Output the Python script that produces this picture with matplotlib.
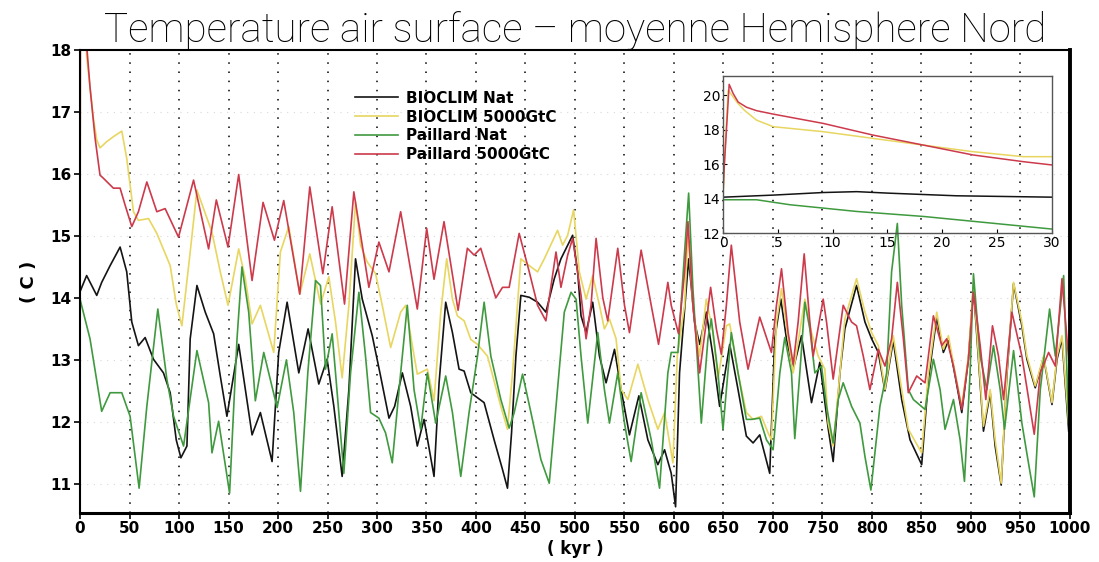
import numpy as np
import matplotlib
matplotlib.use("Agg")
from matplotlib import pyplot as plt

# ---- main panel data (kyr, deg C) ----
bio_nat_t = [0, 6.7, 16.9, 21.9, 30.4, 40.5, 47.2, 52.3, 59, 65.8, 74.2, 84.3, 91.1, 97.2, 101.9, 108, 111.3, 118.1,
             126.5, 135, 141.7, 148.4, 160.3, 167, 173.8, 182.2, 194, 200.7, 209.2, 221, 230.4, 241.2,
             249.6, 256.4, 264.8, 271.6, 278.3, 285.1, 295.2, 303.6, 312.1, 317.8, 325.6, 334, 340.7, 347.5,
             357.6, 362.7, 369.4, 376.2, 382.9, 388, 394.7, 401.5, 408.2, 418.3, 426.8, 431.8, 435.9, 440.3,
             445.3, 453.8, 462.2, 470.6, 479.1, 485.8, 497.6, 502.7,
             506.1, 511.2, 517.9, 524.7, 531.4, 539.9, 546.6, 555, 564.5, 573.6, 583.7, 590.5, 597.2, 601.6,
             605.6, 614.8, 620.8, 625.9, 632.6, 639.4, 646.1, 656.3, 664.7, 673.1, 679.9, 686.6, 696.7, 701.8,
             707.9, 713.6, 720.4, 728.8, 738.9, 747.3,
             755.7, 760.8, 767.6, 772.6, 784.4, 792.9, 799.6, 806.4, 813.1, 821.5, 830, 838.4, 850.2, 857,
             865.4, 872.1, 877.2, 884, 890.7, 897.4, 902.5, 907.6, 912.6, 919.4, 924.4, 930.5, 936.2, 943,
             951.4, 956.5, 964.9, 973.4, 981.8, 986.9, 991.9, 998.7]
bio_nat = [14.1, 14.36, 14.04, 14.25, 14.52, 14.82, 14.42, 13.61, 13.23, 13.36, 13.01, 12.79, 12.47, 11.71, 11.42, 11.61, 13.34, 14.2,
           13.77, 13.42, 12.74, 12.09, 13.25, 12.52, 11.79, 12.15, 11.36, 13.12, 13.93, 12.79, 13.5, 12.61,
           13.01, 12.25, 11.12, 12.52, 14.63, 13.98, 13.39, 12.74, 12.06, 12.25, 12.79, 12.25, 11.61, 12.04,
           11.12, 12.63, 13.93, 13.44, 12.85, 12.82, 12.47, 12.39, 12.31, 11.71, 11.23, 10.93, 11.82, 13.06,
           14.04, 14.01, 13.93, 13.77, 14.31, 14.63, 15.01, 14.42,
           13.71, 13.44, 13.93, 13.06, 12.63, 13.17, 12.52, 11.79, 12.42, 11.71, 11.31, 11.55, 11.17, 10.63,
           12.79, 14.63, 13.61, 13.25, 13.77, 13.06, 12.25, 13.25, 12.52, 11.77, 11.66, 11.79, 11.17, 13.34,
           13.98, 13.34, 12.85, 13.39, 12.31, 12.96,
           11.9, 11.36, 12.79, 13.5, 14.2, 13.61, 13.34, 13.12, 12.5, 13.31, 12.36, 11.71, 11.31, 12.69,
           13.69, 13.12, 13.31, 12.74, 12.15, 13.01, 14.17, 13.01, 11.85, 12.47, 11.61, 10.98, 12.74, 14.23,
           13.55, 13.01, 12.55, 13.04, 12.28, 13.01, 13.34, 11.85]

bio_co2_t = [0, 0.5, 6.7, 10.1, 13.5, 16.9, 20.2, 27, 33.7, 42.2, 47.2, 54, 59, 69.2, 77.6, 91.1, 97.2, 102.9,
             111.3, 118.1, 124.8, 133.3, 141.7, 149.5, 160.3, 167, 173.8, 182.2, 195.7, 202.4, 210.9, 222,
             232.1, 243, 251.3, 258.1, 264.8, 271.6, 278.3, 283.4, 290.1, 298.6, 305.3, 313.8, 323.9, 329,
             335.7, 340.7, 350.9, 357.6, 364.4, 370.4, 376.2, 381.2, 388, 394.7, 401.5, 411.6, 425.1, 431.8,
             436.9, 445.3, 453.8, 462.2, 469, 482.4, 487.5, 492.6, 498.6, 504.4,
             511.2, 517.9, 524.7, 529.7, 534.8, 541.5, 546.6, 553.4, 563.5, 573.6, 583.7, 590.5, 598.9, 603.3,
             610.7, 614.1, 619.1, 625.9, 632.6, 639.4, 644.4, 652.9, 656.3, 664.7, 673.1, 679.9, 688.3, 695.1,
             698.4, 703.5, 708.6, 715.3, 720.4, 732.2, 738.9, 745.7, 752.4,
             755.7, 760.8, 767.6, 772.6, 784.4, 792.9, 799.6, 806.4, 813.1, 821.5, 830, 836.7, 850.2, 857,
             865.4, 872.1, 877.2, 884, 890.7, 897.4, 902.5, 907.6, 912.6, 919.4, 924.4, 930.5, 936.2, 943,
             951.4, 956.5, 964.9, 973.4, 981.8, 986.9, 991.9, 998.7]
bio_co2 = [14.2, 20.3, 17.9, 17.4, 16.9, 16.55, 16.42, 16.52, 16.6, 16.69, 16.25, 15.39, 15.25, 15.28, 15.04, 14.52, 13.9, 13.55,
           14.74, 15.74, 15.44, 15.06, 14.42, 13.88, 14.79, 14.31, 13.58, 13.88, 13.12, 14.74, 15.15, 14.06,
           14.71, 13.9, 14.34, 13.61, 12.71, 13.88, 15.55, 14.85, 14.58, 14.39, 13.88, 13.2, 13.77, 13.88,
           13.23, 12.77, 12.85, 12.34, 13.77, 14.63, 13.98, 13.71, 13.63, 13.33, 13.25, 13.06, 12.25, 11.88,
           12.79, 14.63, 14.52, 14.42, 14.63, 15.09, 14.85, 15.01, 15.42, 14.42,
           13.98, 14.36, 13.88, 13.5, 13.66, 13.34, 12.52, 12.36, 12.93, 12.36, 11.88, 12.15, 11.34, 13.06,
           13.88, 15.06, 13.88, 13.06, 13.98, 13.44, 12.69, 13.55, 13.58, 12.79, 12.15, 12.04, 12.09, 11.82,
           11.71, 13.61, 14.15, 13.34, 12.79, 13.98, 13.44, 13.06, 12.85,
           11.98, 11.61, 12.79, 13.66, 14.31, 13.77, 13.44, 13.23, 12.52, 13.39, 12.52, 11.88, 11.5, 12.79,
           13.77, 13.17, 13.39, 12.79, 12.25, 13.06, 14.25, 13.06, 11.93, 12.52, 11.71, 11.01, 12.79, 14.25,
           13.61, 13.06, 12.58, 13.06, 12.31, 13.06, 13.39, 11.98]

pai_nat_t = [0, 10.1, 21.9, 30.4, 42.2, 50.6, 55.7, 59.7, 67.5, 78.6, 87.7, 94.5, 104.6, 118.1, 129.9, 133.3, 140,
             151.1, 158.6, 163.6, 170.4, 177.1, 185.6, 199.1, 208.5, 215.9, 222.7, 230.1, 237.9, 242.9, 248,
             254.7, 258.1, 266.5, 273.3, 281.7, 288.4, 293.5, 301.9, 308.7, 315.4, 323.9, 330.6, 337.4, 344.1,
             350.9, 359.3, 369.4, 376.2, 384.6, 393, 401.5, 408.2, 415, 425.1, 433.5, 438.6, 447, 455.5, 465.6,
             474, 480.8, 489.2, 496, 501.1, 506.1,
             512.9, 523, 529.7, 534.8, 543.2, 550, 556.7, 566.8, 577, 585.4, 593.8, 597.2, 604, 610.7, 614.8,
             619.1, 627.6, 634.3, 637.7, 644.4, 649.5, 657.9, 664.7, 673.1, 678.2, 686.6, 693.4, 700.1, 706.9,
             711.9, 718.7, 722, 727.1, 732.2, 737.2, 742.3, 749,
             754.1, 760.8, 765.9, 770.9, 779.4, 787.8, 792.9, 798.9, 808, 814.8, 819.8, 825.6, 830, 836.7,
             841.8, 853.6, 862, 868.8, 873.8, 882.3, 889, 893.4, 899.1, 902.5, 909.3, 916, 922.7, 929.5, 933.9,
             943, 951.4, 957.5, 963.9, 970, 979.4, 985.2, 993.6, 998.7]
pai_nat = [13.98, 13.34, 12.17, 12.47, 12.47, 12.09, 11.44, 10.93, 12.25, 13.82, 12.69, 12.09, 11.61, 13.15, 12.31, 11.5, 12.01,
           10.85, 13.34, 14.5, 13.77, 12.34, 13.12, 12.23, 13.0, 12.15, 10.88, 12.79, 14.28, 14.2, 12.85,
           13.42, 12.79, 11.17, 12.79, 14.09, 13.06, 12.15, 12.06, 11.82, 11.34, 12.79, 13.88, 12.52, 11.88,
           12.79, 11.98, 12.74, 12.15, 11.12, 12.15, 13.06, 13.93, 13.06, 12.36, 11.9, 12.15, 12.77, 12.15, 11.39,
           11.01, 12.25, 13.77, 14.09, 13.98, 13.06,
           11.98, 13.44, 12.52, 11.98, 12.79, 11.98, 11.36, 12.47, 11.71, 10.93, 12.79, 13.12, 13.12, 14.74, 15.69,
           14.15, 11.98, 13.34, 13.66, 12.79, 11.88, 13.44, 12.79, 12.04, 12.04, 12.06, 11.71, 11.55, 12.79,
           13.36, 12.79, 11.73, 12.79, 13.93, 13.5, 12.79, 12.9,
           12.25, 11.66, 12.36, 12.63, 12.25, 11.98, 11.44, 10.9, 12.25, 12.79, 14.42, 15.2, 13.88, 12.52,
           12.36, 12.2, 13.01, 12.52, 11.88, 12.36, 11.71, 11.04, 12.79, 14.39, 13.06, 12.52, 13.23, 12.52, 11.88,
           13.15, 11.98, 11.39, 10.79, 12.52, 13.82, 13.06, 14.36, 11.98]

pai_co2_t = [0, 0.55, 5.1, 10.1, 15.2, 20.2, 23.6, 33.7, 40.5, 45.5, 52.3, 59, 67.5, 77.6, 86, 99.5, 114.7,
             129.9, 137.7, 149.5, 160.3, 173.8, 184.9, 196.4, 205.8, 222, 232.1, 245.3,
             254.7, 267.2, 276.6, 291.8, 301.9, 312.1, 323.9, 340.7, 350.2, 357.6, 367.7, 381.9, 391.3, 398.1,
             404.8, 420, 426.8, 433.5, 443.6, 453.8, 462.2, 470.6, 480.8, 485.8, 492.6, 497.6,
             506.1, 511.2, 516.2, 521.3, 528.1, 533.1, 543.2, 550, 555, 566.8, 577, 584.4, 593.8, 597.2, 604.6,
             610.7, 614.1, 619.1, 625.9, 632.6, 637, 642.8, 647.8, 652.9, 657.9, 666.4, 674.8, 686.6, 698.4,
             703.5, 708.6, 715.3, 720.4, 725.4, 731.5, 737.2, 740.6, 750.7,
             754.1, 760.8, 770.9, 779.4, 784.4, 791.2, 797.9, 806.4, 813.1, 819.8, 825.6, 831.7, 836.7, 845.2,
             853.6, 862, 870.5, 875.5, 882.3, 890.7, 897.4, 902.5, 909.3, 915, 921.7, 927.8, 932.9, 941.3,
             951.4, 963.9, 970, 978.4, 985.2, 991.9, 998.7]
pai_co2 = [14.0, 20.6, 18.4, 17.4, 16.58, 15.98, 15.93, 15.77, 15.77, 15.5, 15.15, 15.39, 15.87, 15.39, 15.44, 14.98, 15.9,
           14.79, 15.58, 14.82, 15.99, 14.28, 15.54, 14.93, 15.57, 14.06, 15.79, 14.39,
           15.47, 13.9, 15.71, 14.17, 14.9, 14.42, 15.39, 13.82, 15.12, 14.3, 15.23, 13.8, 14.8, 14.69,
           14.8, 14.0, 14.17, 14.17, 15.04, 14.42, 13.88, 13.63, 14.74, 14.17, 14.69, 14.96,
           14.04, 13.34, 13.88, 14.96, 14.0, 13.63, 14.8, 13.88, 13.44, 14.77, 13.88, 13.25, 14.25, 13.88, 13.42,
           14.42, 15.23, 13.88, 12.79, 13.61, 14.17, 13.5, 13.09, 13.88, 14.85, 13.61, 12.85, 13.69, 13.12,
           13.88, 14.47, 13.44, 12.93, 13.61, 14.71, 13.61, 13.06, 13.98,
           13.61, 12.69, 13.88, 13.61, 13.55, 13.06, 12.52, 13.17, 12.9, 13.34, 14.25, 13.34, 12.47, 12.74,
           12.63, 13.71, 13.23, 13.34, 12.9, 12.2, 13.01, 14.09, 13.23, 12.36, 13.55, 13.06, 12.36, 13.77,
           13.06, 11.8, 12.79, 13.12, 12.9, 14.31, 13.01]

# ---- inset data: first 30 kyr ----
in_bio_nat_t = [0, 4.57, 9.14, 12.2, 15.2, 21.3, 30]
in_bio_nat = [14.08, 14.2, 14.35, 14.4, 14.31, 14.16, 14.08]
in_bio_co2_t = [0, 0.1, 0.46, 0.91, 1.37, 1.98, 3.05, 4.57, 9.14, 13.7, 18.3, 22.8, 27.4, 30]
in_bio_co2 = [14.3, 16.0, 20.29, 19.9, 19.5, 19.1, 18.55, 18.17, 17.88, 17.49, 17.1, 16.72, 16.43, 16.43]
in_pai_nat_t = [0, 3.05, 6.1, 12.2, 18.3, 24.4, 30]
in_pai_nat = [13.93, 13.93, 13.64, 13.25, 12.96, 12.58, 12.23]
in_pai_co2_t = [0, 0.09, 0.55, 0.91, 1.37, 2.13, 3.05, 4.57, 9.14, 13.7, 18.3, 22.8, 27.4, 30]
in_pai_co2 = [14.4, 15.7, 20.63, 20.1, 19.6, 19.3, 19.1, 18.9, 18.36, 17.68, 17.1, 16.53, 16.14, 15.95]

labels = ["BIOCLIM Nat", "BIOCLIM 5000GtC", "Paillard Nat", "Paillard 5000GtC"]
colors = ["#141414", "#e8d660", "#3f9a3f", "#cc3a4c"]

fig = plt.figure(figsize=(10.99, 5.62), dpi=100)
ax = fig.add_axes([0.0728, 0.0872, 0.9008, 0.824])

series = [(bio_nat_t, bio_nat), (bio_co2_t, bio_co2), (pai_nat_t, pai_nat), (pai_co2_t, pai_co2)]
for (t, v), c, lab in zip(series, colors, labels):
    ax.plot(t, v, color=c, lw=1.2, label=lab, solid_joinstyle="round")

ax.set_xlim(0, 1000)
ax.set_ylim(10.53, 18)
ax.set_xticks(np.arange(0, 1001, 50))
ax.set_yticks(np.arange(11, 19, 1))
for x in np.arange(50, 1000, 50):
    ax.axvline(x, color="k", lw=1.1, ls=(0, (1, 5)), zorder=0)
for y in np.arange(11, 18, 1):
    ax.axhline(y, color="#d8d8d8", lw=0.8, ls=(0, (1, 5)), zorder=0)
ax.tick_params(axis="both", direction="out", length=4, width=1.2, labelsize=11, pad=2)
for lab in ax.get_xticklabels() + ax.get_yticklabels():
    lab.set_fontweight("bold")
for s in ["left", "top"]:
    ax.spines[s].set_linewidth(1.5)
ax.spines["bottom"].set_linewidth(2.2)
ax.spines["right"].set_linewidth(2.8)

ax.set_xlabel("( kyr )", fontsize=12, fontweight="bold", labelpad=3)
ax.set_ylabel("( C )", fontsize=13, fontweight="bold", labelpad=9)
ax.set_title("Temperature air surface \u2013 moyenne Hemisphere Nord", fontsize=29, color="black",
             family=["Roboto", "DejaVu Sans"], fontweight="light", pad=6)

leg = ax.legend(loc="upper left", bbox_to_anchor=(0.272, 0.925), frameon=False, handlelength=2.8,
                handletextpad=0.5, labelspacing=0.25, borderaxespad=0,
                prop={"weight": "bold", "size": 11})

# inset
ins = fig.add_axes([0.658, 0.5854, 0.299, 0.279], facecolor="none")
ins_series = [(in_bio_nat_t, in_bio_nat), (in_bio_co2_t, in_bio_co2), (in_pai_nat_t, in_pai_nat), (in_pai_co2_t, in_pai_co2)]
for (t, v), c in zip(ins_series, colors):
    ins.plot(t, v, color=c, lw=1.1)
ins.set_xlim(0, 30)
ins.set_ylim(12, 21.1)
ins.set_xticks(np.arange(0, 31, 5))
ins.set_yticks(np.arange(12, 21, 2))
ins.tick_params(direction="in", length=3, labelsize=10, pad=2)
for s in ins.spines.values():
    s.set_linewidth(1.0)
    s.set_color("#555555")

fig.savefig("out.png", dpi=100)
